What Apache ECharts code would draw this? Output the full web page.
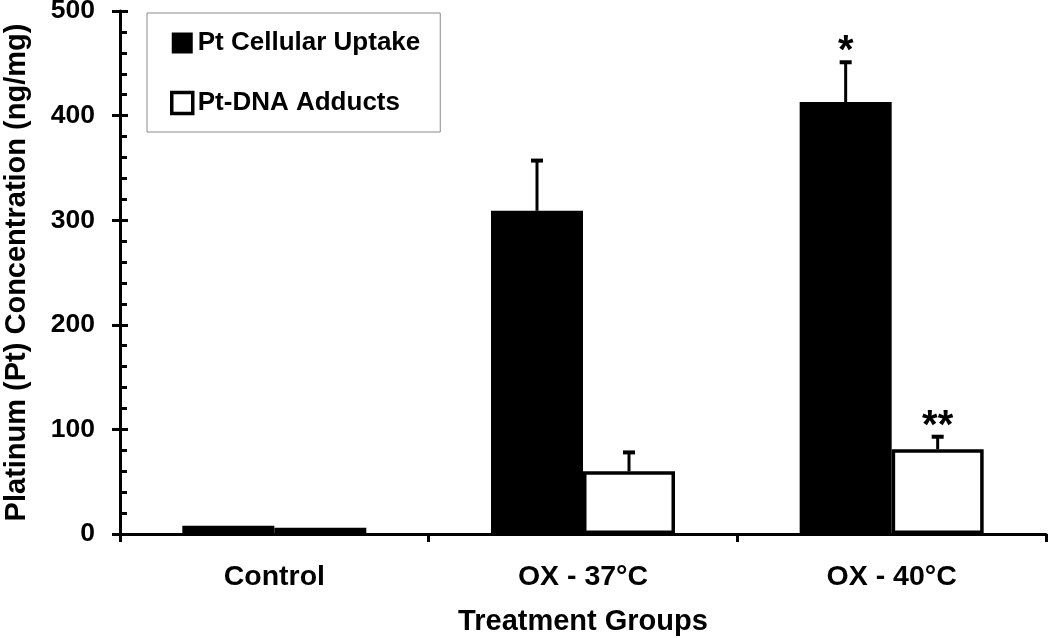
<!DOCTYPE html>
<html>
<head>
<meta charset="utf-8">
<script src="https://cdn.jsdelivr.net/npm/echarts@6/dist/echarts.min.js"></script>
<style>
html,body{margin:0;padding:0;background:#fff;}
#chart{width:1050px;height:638px;}
</style>
</head>
<body>
<div id="chart"></div>
<script>
const categories = ['Control', 'OX - 37°C', 'OX - 40°C'];
const uptake = [8, 309, 413];
const uptakeErr = [0, 48, 38];
const uptakeSig = ['', '', '*'];
const adducts = [6, 60, 81];
const adductsErr = [0, 18, 12];
const adductsSig = ['', '', '**'];
const yTicks = [0, 100, 200, 300, 400, 500];

const FONT = '"Liberation Sans", Arial, sans-serif';
const BAR_W = 92;

function errorSeries(values, errs, sigs, offset) {
  return {
    type: 'custom',
    silent: true,
    z: 5,
    data: values.map((v, i) => [i, v]),
    renderItem: function (params, api) {
      const i = api.value(0);
      const v = api.value(1);
      const e = errs[i];
      const sig = sigs[i];
      const base = api.coord([i, v]);
      const x = base[0] + offset;
      const children = [];
      if (e > 0) {
        const top = api.coord([i, v + e]);
        children.push({
          type: 'line',
          shape: { x1: x, y1: base[1], x2: x, y2: top[1] },
          style: { stroke: '#000', lineWidth: 3 }
        });
        children.push({
          type: 'line',
          shape: { x1: x - 6, y1: top[1], x2: x + 6, y2: top[1] },
          style: { stroke: '#000', lineWidth: 4 }
        });
        if (sig) {
          children.push({
            type: 'text',
            style: {
              text: sig, x: x, y: top[1] - 10,
              align: 'center', verticalAlign: 'middle',
              font: 'bold 40px ' + FONT, fill: '#000'
            }
          });
        }
      }
      return { type: 'group', children: children };
    }
  };
}

const chart = echarts.init(document.getElementById('chart'), null, { renderer: 'canvas' });
chart.setOption({
  animation: false,
  backgroundColor: '#fff',
  textStyle: { fontFamily: FONT },
  grid: { left: 120, right: 4, top: 11, bottom: 104, containLabel: false, outerBoundsMode: 'none' },
  legend: {
    orient: 'vertical',
    left: 147, top: 13,
    padding: [17, 20, 16, 23],
    itemGap: 34,
    itemWidth: 21, itemHeight: 21,
    icon: 'rect',
    borderColor: '#8a8a8a', borderWidth: 1,
    backgroundColor: '#fff',
    textStyle: { fontFamily: FONT, fontWeight: 'bold', fontSize: 26, color: '#000' },
    data: [
      { name: 'Pt Cellular Uptake' },
      { name: 'Pt-DNA Adducts', itemStyle: { color: '#fff', borderColor: '#000', borderWidth: 3.5 } }
    ]
  },
  xAxis: {
    type: 'category',
    data: categories,
    boundaryGap: true,
    name: 'Treatment Groups',
    nameLocation: 'middle',
    nameGap: 73,
    nameTextStyle: { fontFamily: FONT, fontWeight: 'bold', fontSize: 29, color: '#000', verticalAlign: 'top' },
    axisLine: { lineStyle: { color: '#000', width: 3 } },
    axisTick: { show: true, alignWithLabel: false, inside: false, length: 8, lineStyle: { color: '#000', width: 3 } },
    axisLabel: { fontFamily: FONT, fontWeight: 'bold', fontSize: 28.5, color: '#000', margin: 29 },
    splitLine: { show: false }
  },
  yAxis: [{
    type: 'value',
    position: 'left',
    offset: 0,
    min: yTicks[0], max: yTicks[yTicks.length - 1], interval: 100,
    name: 'Platinum (Pt) Concentration (ng/mg)',
    nameLocation: 'middle',
    nameRotate: 90,
    nameGap: 89,
    nameTextStyle: { fontFamily: FONT, fontWeight: 'bold', fontSize: 29, color: '#000' },
    axisLine: { show: true, lineStyle: { color: '#000', width: 3 } },
    axisTick: { show: true, inside: false, length: 8, lineStyle: { color: '#000', width: 3 } },
    axisLabel: { fontFamily: FONT, fontWeight: 'bold', fontSize: 26.5, color: '#000', margin: 25 },
    splitLine: { show: false }
  }, {
    type: 'value',
    position: 'left',
    offset: 0,
    min: yTicks[0], max: yTicks[yTicks.length - 1], interval: 100,
    axisLine: { show: false },
    axisTick: { show: true, inside: true, length: 8, lineStyle: { color: '#000', width: 3 } },
    minorTick: { show: true, splitNumber: 5, length: 7, lineStyle: { color: '#000', width: 3 } },
    axisLabel: { show: false },
    splitLine: { show: false }
  }],
  series: [{
    name: 'Pt Cellular Uptake',
    type: 'bar',
    data: uptake,
    barWidth: BAR_W,
    barGap: '0%',
    itemStyle: { color: '#000', borderColor: '#000', borderWidth: 0 },
    z: 3
  }, {
    name: 'Pt-DNA Adducts',
    type: 'bar',
    data: adducts,
    barWidth: BAR_W,
    barGap: '0%',
    itemStyle: { color: '#fff', borderColor: '#000', borderWidth: 3.5 },
    z: 3
  },
  errorSeries(uptake, uptakeErr, uptakeSig, -BAR_W / 2),
  errorSeries(adducts, adductsErr, adductsSig, BAR_W / 2)
  ]
});
</script>
</body>
</html>
